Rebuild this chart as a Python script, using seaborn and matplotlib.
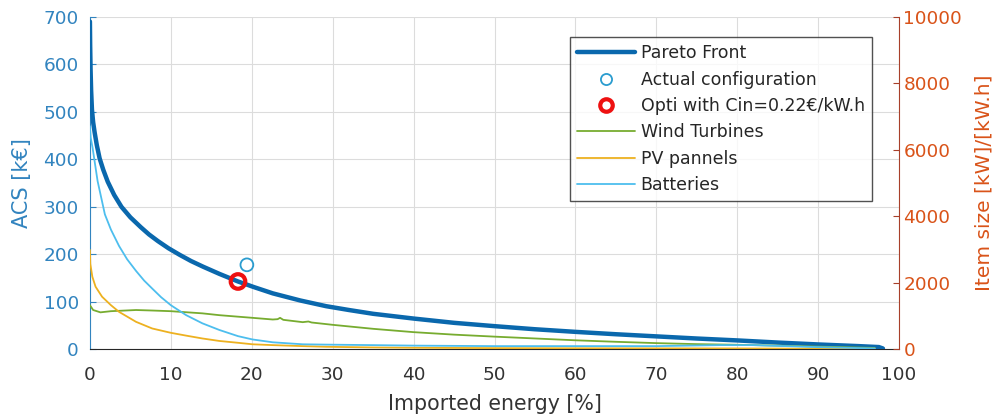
import numpy as np
import pandas as pd
import matplotlib
matplotlib.use("Agg")
import matplotlib.pyplot as plt
import seaborn as sns
from matplotlib.lines import Line2D

# Pareto front: imported energy [%] vs ACS [kEUR]
pareto_x = [0, 0.03, 0.08, 0.15, 0.25, 0.4, 0.58, 0.85, 1.2, 1.65, 2.2, 3, 3.9, 5, 6.3,
            7.3, 8.4, 9.7, 11.1, 12.5, 14, 16, 18.3, 20.3, 22.6, 26, 29.2, 32, 35, 40,
            45, 50, 55, 60, 65, 70, 75, 80, 85, 90, 95, 97.5, 98]
pareto_acs = [690, 640, 590, 545, 505, 478, 457, 430, 402, 378, 353, 325, 300, 278, 257,
              242, 228, 213, 199, 186, 174, 159, 143, 131, 118, 103, 91, 83, 75, 65,
              56, 49, 42.5, 37, 32, 27.5, 23, 19, 14.5, 10.5, 7, 5, 2]

# single points
actual_x, actual_acs = [19.4], [178]
opti_x, opti_acs = [18.3], [143]

# item sizes (right axis) [kW] / [kW.h]
wind_x = [0, 0.4, 1.3, 2.6, 5.7, 7.7, 10, 13.9, 16, 18.3, 20.1, 22.6, 23.2, 23.5, 23.9,
          26.3, 27, 27.4, 30, 35, 40, 45, 50, 55, 60, 65, 70, 75, 80, 85, 90, 97]
wind_kw = [1330, 1185, 1115, 1150, 1185, 1170, 1150, 1085, 1030, 985, 950, 900, 910, 950,
           890, 820, 840, 810, 740, 620, 520, 445, 385, 330, 275, 230, 190, 160, 140,
           115, 85, 45]

pv_x = [0, 0.05, 0.3, 0.7, 1.5, 2.6, 3.6, 5.7, 7.7, 10, 11.9, 13.9, 16, 18.3, 20.1, 22.6,
        26.3, 29.2, 35, 40, 50, 60, 80, 97]
pv_kw = [2990, 2570, 2185, 1885, 1585, 1330, 1130, 830, 630, 500, 415, 330, 255, 200, 155,
         130, 100, 80, 60, 50, 40, 35, 30, 15]

batt_x = [0, 0.1, 0.33, 0.95, 1.85, 2.6, 3.6, 4.6, 5.7, 6.7, 7.7, 8.8, 10, 11.9, 13.9, 16,
          18.3, 20.1, 22.6, 26.3, 29.2, 35, 40, 50, 60, 70, 78, 82, 90, 97]
batt_kwh = [6710, 6360, 6060, 5060, 4060, 3600, 3110, 2710, 2360, 2070, 1830, 1570, 1330,
            1030, 785, 585, 400, 300, 215, 155, 145, 130, 115, 100, 100, 100, 130, 130,
            70, 30]

x_ticks = list(range(0, 101, 10))
left_ticks = list(range(0, 701, 100))
right_ticks = list(range(0, 10001, 2000))

c_left = "#3284bf"
c_right = "#D95319"
c_rspine = "#a8402a"
c_pareto = "#0a68ad"
c_actual = "#2a9ccf"
c_opti = "#ee1111"
c_wind = "#77AC30"
c_pv = "#EDB120"
c_batt = "#4DBEEE"
c_text = "#333333"

sns.set_style("white")
plt.rcParams["font.family"] = ["DejaVu Sans"]

fig = plt.figure(figsize=(9.99, 4.18), dpi=100)
ax = fig.add_axes([0.090, 0.164, 0.810, 0.796])
ax2 = ax.twinx()

sns.lineplot(x=pareto_x, y=pareto_acs, ax=ax, color=c_pareto, linewidth=3.2, sort=False,
             zorder=5)
sns.scatterplot(x=actual_x, y=actual_acs, ax=ax, s=85, facecolor="none",
                edgecolor=c_actual, linewidth=1.3, zorder=6)
sns.scatterplot(x=opti_x, y=opti_acs, ax=ax, s=110, facecolor="none",
                edgecolor=c_opti, linewidth=3.0, zorder=7)

sns.lineplot(x=wind_x, y=wind_kw, ax=ax2, color=c_wind, linewidth=1.3, sort=False)
sns.lineplot(x=pv_x, y=pv_kw, ax=ax2, color=c_pv, linewidth=1.3, sort=False)
sns.lineplot(x=batt_x, y=batt_kwh, ax=ax2, color=c_batt, linewidth=1.3, sort=False)

ax.set_xlim(0, 100)
ax.set_ylim(0, 700)
ax2.set_ylim(0, 10000)
ax.set_xticks(x_ticks)
ax.set_yticks(left_ticks)
ax2.set_yticks(right_ticks)

ax.grid(True, color="#dcdcdc", linewidth=0.8)
ax.set_axisbelow(True)

for a in (ax, ax2):
    a.spines["top"].set_visible(False)
ax.spines["left"].set_color(c_left)
ax.spines["bottom"].set_color("#262626")
ax.spines["right"].set_visible(False)
ax2.spines["right"].set_color(c_rspine)
ax2.spines["left"].set_visible(False)
ax2.spines["bottom"].set_visible(False)

ax.tick_params(axis="x", direction="in", length=4, labelsize=13.3, colors="#262626",
               labelcolor=c_text, pad=12)
ax.tick_params(axis="y", direction="in", length=4, labelsize=13.3, colors=c_left,
               labelcolor=c_left, pad=8)
ax2.tick_params(axis="y", direction="in", length=4, labelsize=13.3, colors=c_rspine,
                labelcolor=c_right, pad=3)

ax.set_xlabel("Imported energy [%]", fontsize=14.8, color=c_text, labelpad=7)
ax.set_ylabel("ACS [k€]", fontsize=15, color=c_left, labelpad=8)
ax2.set_ylabel("Item size [kW]/[kW.h]", fontsize=14.5, color=c_right, labelpad=9)

handles = [
    Line2D([], [], color=c_pareto, linewidth=3.2),
    Line2D([], [], linestyle="none", marker="o", markersize=8, markerfacecolor="none",
           markeredgecolor=c_actual, markeredgewidth=1.3),
    Line2D([], [], linestyle="none", marker="o", markersize=9, markerfacecolor="none",
           markeredgecolor=c_opti, markeredgewidth=3.0),
    Line2D([], [], color=c_wind, linewidth=1.3),
    Line2D([], [], color=c_pv, linewidth=1.3),
    Line2D([], [], color=c_batt, linewidth=1.3),
]
labels = ["Pareto Front", "Actual configuration", "Opti with Cin=0.22€/kW.h",
          "Wind Turbines", "PV pannels", "Batteries"]
leg = ax2.legend(handles, labels, loc="upper right", bbox_to_anchor=(0.9666, 0.939),
                 fontsize=12.5, frameon=True, fancybox=False, edgecolor="#262626",
                 handlelength=3.3, handletextpad=0.35, labelspacing=0.48,
                 borderpad=0.42, borderaxespad=0)
leg.get_frame().set_linewidth(1.0)
for t in leg.get_texts():
    t.set_color("#262626")

fig.savefig("out.png", dpi=100)
